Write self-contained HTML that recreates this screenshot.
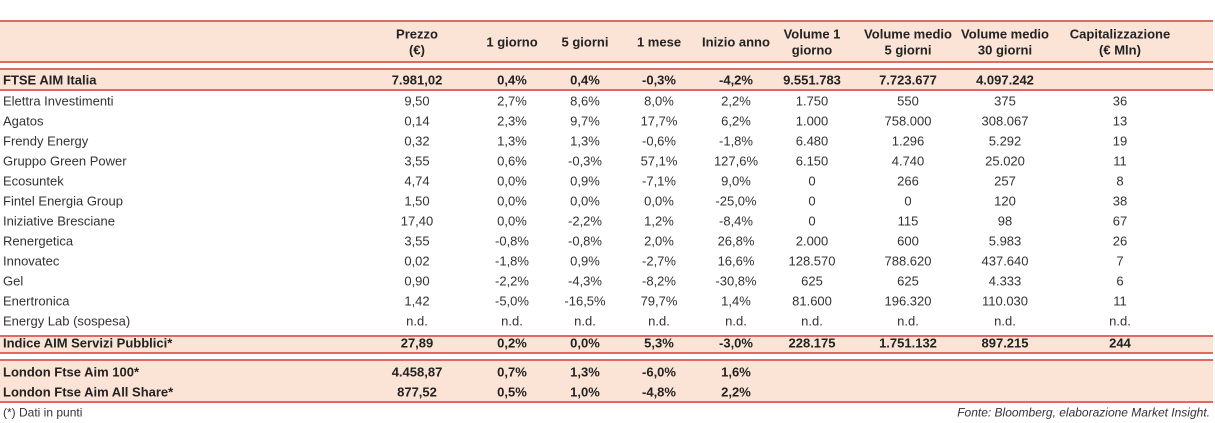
<!DOCTYPE html>
<html><head><meta charset="utf-8">
<style>
body{margin:0;width:1215px;height:423px;background:#fff;position:relative;overflow:hidden;font-family:"Liberation Sans","DejaVu Sans",sans-serif;color:#333;}
.band{position:absolute;left:0;width:1213px;background:#fbe4d5;}
.ln{position:absolute;left:0;width:1213px;height:2px;background:#dd6b5f;}
.c{position:absolute;font-size:13px;line-height:15px;white-space:nowrap;transform:translate(-50%,-50%);text-align:center;}
.l{position:absolute;left:3px;font-size:13px;line-height:15px;white-space:nowrap;transform:translateY(-50%);}
.b{font-weight:bold;color:#222;}
</style></head>
<body>
<div class="band" style="top:21px;height:42px"></div>
<div class="band" style="top:69px;height:21px"></div>
<div class="band" style="top:336px;height:17px"></div>
<div class="band" style="top:360px;height:42px"></div>
<div class="ln" style="top:20px"></div>
<div class="ln" style="top:61px"></div>
<div class="ln" style="top:68px"></div>
<div class="ln" style="top:89px"></div>
<div class="ln" style="top:335px"></div>
<div class="ln" style="top:352px"></div>
<div class="ln" style="top:359px"></div>
<div class="ln" style="top:401px"></div>
<div class="l" style="top:413px;font-size:12px">(*) Dati in punti</div>
<div class="l" style="top:413px;left:auto;right:5px;font-size:12px;font-style:italic">Fonte: Bloomberg, elaborazione Market Insight.</div>
<script>
const colX=[417,512,585,659,736,812,908,1005,1120];
const headers=[["Prezzo","(€)"],["1 giorno"],["5 giorni"],["1 mese"],["Inizio anno"],["Volume 1","giorno"],["Volume medio","5 giorni"],["Volume medio","30 giorni"],["Capitalizzazione","(€ Mln)"]];
const rows=[
["FTSE AIM Italia",80,1,["7.981,02","0,4%","0,4%","-0,3%","-4,2%","9.551.783","7.723.677","4.097.242",""]],
["Elettra Investimenti",101,0,["9,50","2,7%","8,6%","8,0%","2,2%","1.750","550","375","36"]],
["Agatos",121,0,["0,14","2,3%","9,7%","17,7%","6,2%","1.000","758.000","308.067","13"]],
["Frendy Energy",141,0,["0,32","1,3%","1,3%","-0,6%","-1,8%","6.480","1.296","5.292","19"]],
["Gruppo Green Power",161,0,["3,55","0,6%","-0,3%","57,1%","127,6%","6.150","4.740","25.020","11"]],
["Ecosuntek",181,0,["4,74","0,0%","0,9%","-7,1%","9,0%","0","266","257","8"]],
["Fintel Energia Group",201,0,["1,50","0,0%","0,0%","0,0%","-25,0%","0","0","120","38"]],
["Iniziative Bresciane",221,0,["17,40","0,0%","-2,2%","1,2%","-8,4%","0","115","98","67"]],
["Renergetica",241,0,["3,55","-0,8%","-0,8%","2,0%","26,8%","2.000","600","5.983","26"]],
["Innovatec",261,0,["0,02","-1,8%","0,9%","-2,7%","16,6%","128.570","788.620","437.640","7"]],
["Gel",281,0,["0,90","-2,2%","-4,3%","-8,2%","-30,8%","625","625","4.333","6"]],
["Enertronica",301,0,["1,42","-5,0%","-16,5%","79,7%","1,4%","81.600","196.320","110.030","11"]],
["Energy Lab (sospesa)",321,0,["n.d.","n.d.","n.d.","n.d.","n.d.","n.d.","n.d.","n.d.","n.d."]],
["Indice AIM Servizi Pubblici*",343,1,["27,89","0,2%","0,0%","5,3%","-3,0%","228.175","1.751.132","897.215","244"]],
["London Ftse Aim 100*",372,1,["4.458,87","0,7%","1,3%","-6,0%","1,6%","","","",""]],
["London Ftse Aim All Share*",392,1,["877,52","0,5%","1,0%","-4,8%","2,2%","","","",""]]
];
function add(cls,txt,x,y){const d=document.createElement('div');d.className=cls;d.textContent=txt;d.style.top=y+'px';if(x!==null)d.style.left=x+'px';document.body.appendChild(d);return d;}
headers.forEach((h,i)=>{
  h.forEach((t,j)=>{
    const y=h.length===1?42:34+j*16;
    const d=add('c b',t,colX[i],y);
    
    
  });
});
rows.forEach(r=>{
  const lab=add('l'+(r[2]?' b':''),r[0],null,r[1]);
  
  
  r[3].forEach((v,i)=>{
    if(!v)return;
    const d=add('c'+(r[2]?' b':''),v,colX[i],r[1]);
    
    
  });
});
</script>
</body></html>
